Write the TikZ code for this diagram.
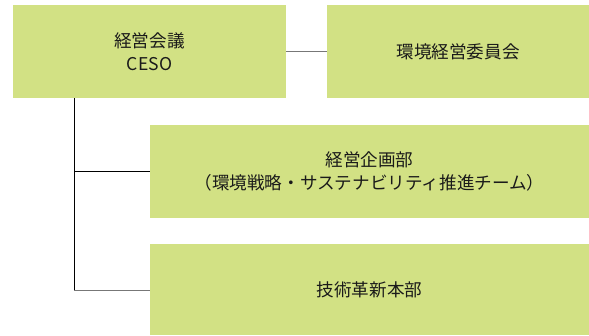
\documentclass[tikz,border=0pt]{standalone}
\usepackage{fontspec}
\setmainfont{Noto Sans CJK JP}
\definecolor{boxgreen}{HTML}{D2E184}
\definecolor{txt}{HTML}{1A1A1A}
\definecolor{linegray}{HTML}{777777}
\begin{document}
\begin{tikzpicture}[x=1pt,y=-1pt,
  orgbox/.style={fill=boxgreen,draw=none,inner sep=0pt,outer sep=0pt,text=txt,align=center,font=\fontsize{17.6}{23}\selectfont},
  conn/.style={draw=black,line width=1pt},
  conngray/.style={draw=linegray,line width=1.3pt}]
\useasboundingbox (0,0) rectangle (589,335);
\node[orgbox,minimum width=273,minimum height=93.5] (ceso) at (149.5,51.7) {経営会議\\CESO};
\node[orgbox,minimum width=262,minimum height=93.5] (env) at (458,51.7) {環境経営委員会};
\node[orgbox,minimum width=439,minimum height=93.3] (plan) at (369.5,171.7) {経営企画部\\（環境戦略・サステナビリティ推進チーム）};
\node[orgbox,minimum width=439,minimum height=91] (tech) at (369.5,289.5) {技術革新本部};
\coordinate (trunk) at (74.3,0);
\draw[conngray] (ceso.east |- 0,51.7) -- (env.west |- 0,51.7);
\draw[conn] (ceso.south -| trunk) -- (trunk |- 0,290.5);
\draw[conn] (trunk |- 0,171.3) -- (plan.west |- 0,171.3);
\draw[conngray] (trunk |- 0,290.5) -- (tech.west |- 0,290.5);
\end{tikzpicture}
\end{document}
